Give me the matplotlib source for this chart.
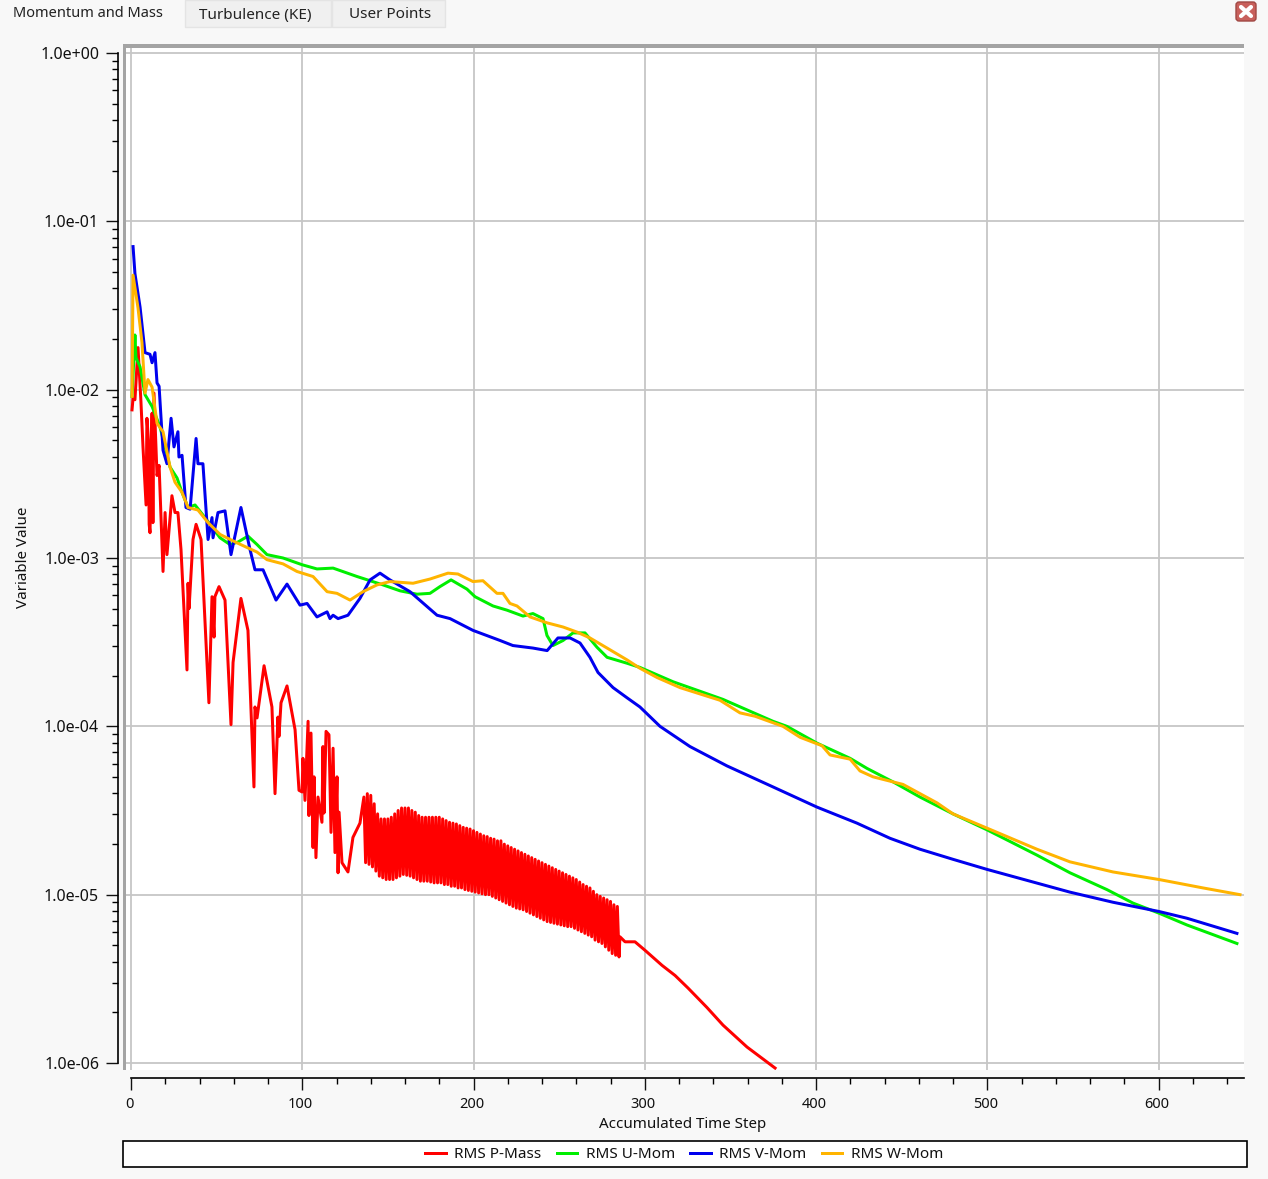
import matplotlib
matplotlib.use("Agg")
import matplotlib.pyplot as plt
import numpy as np
from matplotlib.patches import Rectangle, FancyBboxPatch
from matplotlib.ticker import LogLocator, MultipleLocator, NullFormatter
from matplotlib.transforms import ScaledTranslation

plt.rcParams['font.family'] = ['Noto Sans', 'DejaVu Sans']

W, H = 1268, 1179

TABS = ["Momentum and Mass", "Turbulence (KE)", "User Points"]
SERIES_NAMES = ["RMS P-Mass", "RMS U-Mom", "RMS V-Mom", "RMS W-Mom"]
X_LABEL = "Accumulated Time Step"
Y_LABEL = "Variable Value"
X_TICKS = [0, 100, 200, 300, 400, 500, 600]
Y_TICKS = [1e0, 1e-1, 1e-2, 1e-3, 1e-4, 1e-5, 1e-6]
Y_TICK_LABELS = ["1.0e+00", "1.0e-01", "1.0e-02", "1.0e-03", "1.0e-04", "1.0e-05", "1.0e-06"]

P_HEAD_X = [0.6,1.2,2.3,4.1,5.8,7,8.8,9.3,10.2,10.6,11.1,12.3,12.8,13.4,15.2,16.4,18.7,19.9,21,23.9,25.7,27.4,29.2,32.7,33.3,33.9,36.2,38,40.9,45.5,47.3,48.5,49,51.4,54.9,58.4,59.6,64.2,68.3,71.8,72.4,73.6,77.7,82.3,84.1,85.8,86.4,87.6,91.1,95.8,98.1,99.9,100.4,101.6,103.4,103.9,105.1,106.3,106.9,108,109.2,111.5,112.1,112.7,113.9,115.6,116.8,118,119.1,120.3,120.9,121.5,123.2,126.7,129.6,133.7]
P_HEAD_E = [-2.12,-2.05,-2.06,-1.75,-2.07,-2.34,-2.685,-2.17,-2.30,-2.80,-2.85,-2.14,-2.79,-2.02,-2.51,-2.45,-3.08,-2.73,-2.98,-2.63,-2.73,-2.73,-2.95,-3.665,-3.15,-3.30,-2.89,-2.80,-2.89,-3.86,-3.23,-3.47,-3.23,-3.17,-3.25,-3.99,-3.62,-3.24,-3.43,-4.36,-3.885,-3.95,-3.64,-3.885,-4.40,-3.945,-4.06,-3.86,-3.76,-4.02,-4.38,-4.39,-4.19,-4.44,-3.97,-4.53,-4.04,-4.72,-4.30,-4.78,-4.42,-4.57,-4.12,-4.515,-4.03,-4.05,-4.63,-4.13,-4.75,-4.30,-4.87,-4.51,-4.81,-4.865,-4.66,-4.575]
# oscillating stretch: one crest and one trough per two time steps
P_BAND_START = 136
P_BAND_HI = [-4.42,-4.40,-4.41,-4.46,-4.52,-4.55,-4.55,-4.55,-4.54,-4.52,-4.50,-4.485,-4.485,-4.485,-4.50,-4.51,-4.53,-4.54,-4.54,-4.54,-4.54,-4.54,-4.54,-4.55,-4.56,-4.57,-4.575,-4.58,-4.59,-4.60,-4.605,-4.61,-4.62,-4.63,-4.64,-4.65,-4.655,-4.665,-4.67,-4.68,-4.68,-4.70,-4.71,-4.72,-4.73,-4.74,-4.75,-4.76,-4.77,-4.78,-4.79,-4.80,-4.81,-4.82,-4.83,-4.84,-4.85,-4.86,-4.87,-4.88,-4.89,-4.90,-4.91,-4.925,-4.94,-4.95,-4.96,-4.98,-5.00,-5.01,-5.02,-5.03,-5.04,-5.06,-5.07]
P_BAND_LO = [-4.81,-4.82,-4.835,-4.86,-4.89,-4.90,-4.91,-4.91,-4.91,-4.90,-4.89,-4.88,-4.885,-4.89,-4.90,-4.91,-4.92,-4.92,-4.92,-4.925,-4.93,-4.93,-4.93,-4.94,-4.94,-4.95,-4.95,-4.96,-4.96,-4.97,-4.975,-4.98,-4.985,-4.99,-4.995,-5.00,-5.00,-5.01,-5.02,-5.03,-5.04,-5.05,-5.06,-5.07,-5.08,-5.085,-5.09,-5.10,-5.11,-5.12,-5.13,-5.14,-5.15,-5.16,-5.165,-5.17,-5.175,-5.18,-5.185,-5.19,-5.19,-5.20,-5.21,-5.22,-5.23,-5.24,-5.25,-5.27,-5.28,-5.29,-5.31,-5.33,-5.35,-5.36,-5.37]
P_TAIL_X = [285.5,288.5,294.3,300.1,310.1,317.7,325.3,336.3,345.7,359.7,376.1]
P_TAIL_E = [-5.25,-5.28,-5.28,-5.33,-5.42,-5.48,-5.555,-5.67,-5.775,-5.905,-6.03]

U_X = [0.6,2.3,2.9,5.3,8.2,12.3,16.9,19.9,22.8,26.9,29.8,33.3,37.4,43.2,52,57.8,62.5,68.3,73.6,79.4,88.8,99.9,108.6,118,132,147.2,157.1,167,174.6,180.4,186.9,196.2,200.9,211.4,219.6,228.9,234.7,240.6,242.9,246.4,252.3,258.1,265.1,272.1,278,289.6,297.2,316.5,345.7,374.9,383,400.6,419.9,429.8,445,460.7,480,499.9,529,548.3,569.9,585.1,600.3,616.6,645.8]
U_E = [-2.04,-1.675,-1.81,-1.865,-2.03,-2.10,-2.22,-2.34,-2.46,-2.525,-2.61,-2.70,-2.685,-2.76,-2.88,-2.92,-2.905,-2.87,-2.92,-2.98,-3.00,-3.04,-3.065,-3.06,-3.11,-3.16,-3.195,-3.215,-3.21,-3.17,-3.13,-3.185,-3.23,-3.285,-3.31,-3.345,-3.33,-3.36,-3.46,-3.52,-3.49,-3.445,-3.445,-3.53,-3.59,-3.625,-3.65,-3.735,-3.84,-3.97,-4.00,-4.10,-4.19,-4.25,-4.33,-4.42,-4.52,-4.615,-4.765,-4.87,-4.97,-5.05,-5.11,-5.18,-5.29]

V_X = [1.2,2.3,5.3,8.2,11.1,12.3,14,15.2,16.4,18.7,21,23.4,25.1,27.4,28,29.8,32.1,34.5,38,39.1,42,45,47.3,47.9,50.8,54.9,58.4,64.2,69.5,72.4,77.1,84.7,91.1,98.7,102.8,108.6,114.5,116.2,118,120.9,126.7,133.7,139.6,145.4,151.2,162.9,178.7,186.3,199.7,215.5,223,234.7,243,249.3,256.4,262.2,268,272.7,281.5,289.6,297.2,308.9,326.4,348,374.9,400.6,423.9,443.2,460.7,480,499.9,525,548.3,573.4,600.3,616.6,645.8]
V_E = [-1.15,-1.31,-1.51,-1.78,-1.79,-1.84,-1.78,-1.96,-1.98,-2.36,-2.44,-2.17,-2.34,-2.25,-2.40,-2.39,-2.70,-2.71,-2.29,-2.44,-2.44,-2.89,-2.76,-2.88,-2.73,-2.72,-2.98,-2.70,-2.95,-3.07,-3.07,-3.25,-3.155,-3.28,-3.27,-3.35,-3.32,-3.36,-3.34,-3.36,-3.34,-3.24,-3.13,-3.09,-3.13,-3.20,-3.34,-3.36,-3.43,-3.49,-3.52,-3.535,-3.55,-3.475,-3.475,-3.505,-3.59,-3.68,-3.77,-3.83,-3.885,-4.00,-4.12,-4.235,-4.36,-4.48,-4.575,-4.665,-4.73,-4.79,-4.85,-4.92,-4.985,-5.045,-5.10,-5.14,-5.23]

W_X = [0.6,1.2,4.1,6.4,8.2,9.9,12.3,15.2,18.7,22.8,25.7,29.8,33.3,39.1,45,52,61.9,73.6,79.4,88.8,96.9,106.3,114.5,120.3,127.9,135.5,143.6,151.2,164.7,174.6,185.1,190.9,199.7,205.5,213.7,217.2,221.3,225.4,233,242.9,252.3,260.4,268,278,289.6,297.2,307.2,320.6,343.9,355.6,364.4,380.7,390.7,403.5,408.2,419.9,425.7,433.3,450.8,470.7,480,499.9,529,548.3,573.4,600.3,626,647.6]
W_E = [-2.04,-1.32,-1.515,-1.72,-2.02,-1.94,-1.985,-2.20,-2.25,-2.46,-2.55,-2.61,-2.70,-2.715,-2.79,-2.86,-2.91,-2.965,-3.01,-3.035,-3.08,-3.11,-3.20,-3.21,-3.25,-3.20,-3.16,-3.14,-3.15,-3.125,-3.09,-3.095,-3.14,-3.135,-3.21,-3.21,-3.27,-3.285,-3.35,-3.385,-3.41,-3.44,-3.475,-3.535,-3.605,-3.655,-3.71,-3.77,-3.845,-3.92,-3.94,-4.00,-4.065,-4.115,-4.17,-4.195,-4.265,-4.30,-4.345,-4.455,-4.52,-4.605,-4.73,-4.805,-4.865,-4.91,-4.96,-5.00]

COLORS = ["#ff0000", "#00ee00", "#0000ee", "#ffb400"]

band_x, band_e = [], []
for i, (hi, lo) in enumerate(zip(P_BAND_HI, P_BAND_LO)):
    band_x += [P_BAND_START + 2 * i, P_BAND_START + 2 * i + 1]
    band_e += [hi, lo]
P_X = P_HEAD_X + band_x + P_TAIL_X
P_E = P_HEAD_E + band_e + P_TAIL_E

fig = plt.figure(figsize=(W / 100, H / 100), dpi=100, facecolor="#f8f8f8")

# window furniture, in pixel coordinates
bg = fig.add_axes([0, 0, 1, 1], zorder=-1)
bg.set_xlim(0, W); bg.set_ylim(H, 0); bg.axis("off")
bg.add_patch(Rectangle((185, 0), 146, 27, fc="#f0f0f0", ec="#e4e4e4", lw=1))
bg.add_patch(Rectangle((332, 0), 113, 27, fc="#f0f0f0", ec="#e4e4e4", lw=1))
bg.text(13, 13.5, TABS[0], fontsize=10.5, va="center", ha="left", color="#222222")
bg.text(199, 15, TABS[1], fontsize=11, va="center", ha="left", color="#222222")
bg.text(349, 15, TABS[2], fontsize=11, va="center", ha="left", color="#222222")
bg.add_patch(FancyBboxPatch((1237, 3), 18, 17, boxstyle="round,pad=1,rounding_size=3", fc="#c8605c", ec="#a04844", lw=1))
bg.plot([1241, 1251], [7, 16], color="white", lw=3, solid_capstyle="round")
bg.plot([1241, 1251], [16, 7], color="white", lw=3, solid_capstyle="round")
bg.add_patch(Rectangle((123, 44), 1121, 4, fc="#a4a4a4", ec="none"))
bg.add_patch(Rectangle((122.5, 44), 4, 1026, fc="#a4a4a4", ec="none"))
bg.add_patch(Rectangle((123, 1141), 1124, 26, fc="white", ec="black", lw=1.2))

L, R, T, B = 126, 1244, 48, 1070
ax = fig.add_axes([L / W, 1 - B / H, (R - L) / W, (B - T) / H], zorder=1)
ax.set_facecolor("white")
ax.set_yscale("log")
ax.set_xlim((L - 131) / 1.7125, (R - 131) / 1.7125)
ax.set_ylim(10 ** (-6 - 7 / 168.33), 10 ** (5 / 168.33))

ax.grid(True, which="major", color="#c6c6c6", lw=1.3)
ax.set_axisbelow(True)

px = 0.72
for xs, es, c, name in zip([P_X, U_X, V_X, W_X], [P_E, U_E, V_E, W_E], COLORS, SERIES_NAMES):
    ax.plot(xs, 10.0 ** np.array(es), color=c, lw=3 * px, label=name, solid_joinstyle="round")

for s in ("top", "right"):
    ax.spines[s].set_visible(False)
ax.spines["left"].set_position(("outward", 8 * px))
ax.spines["left"].set_bounds(1e-6, 1)
ax.spines["bottom"].set_position(("outward", 8 * px))
ax.spines["bottom"].set_bounds(0, 650)
ax.spines["bottom"].set_linewidth(1.2)
ax.spines["left"].set_linewidth(1.2)

ax.set_yticks(Y_TICKS)
ax.set_yticklabels(Y_TICK_LABELS)
ax.yaxis.set_minor_locator(LogLocator(base=10, subs=range(2, 10), numticks=20))
ax.yaxis.set_minor_formatter(NullFormatter())
ax.set_xticks(X_TICKS)
ax.xaxis.set_minor_locator(MultipleLocator(20))
ax.tick_params(axis="y", which="major", length=12 * px, width=1, pad=5, labelsize=11.5, colors="#111111")
ax.tick_params(axis="y", which="minor", length=6 * px, width=1)
ax.tick_params(axis="x", which="major", length=12 * px, width=1, pad=5, labelsize=10.5, colors="#111111")
ax.tick_params(axis="x", which="minor", length=6 * px, width=1)
shift = ScaledTranslation(-2 / 100, 0, fig.dpi_scale_trans)
for lab in ax.get_xticklabels():
    lab.set_transform(lab.get_transform() + shift)

fig.text(683 / W, 1 - 1124 / H, X_LABEL, fontsize=10.9, ha="center", va="center", color="#111111")
fig.text(24 / W, 1 - 557 / H, Y_LABEL, fontsize=10.9, rotation=90, ha="center", va="center", color="#111111")

handles, labels = ax.get_legend_handles_labels()
fig.legend(handles, labels, ncol=4, frameon=False, loc="center",
           bbox_to_anchor=(684 / W, 1 - 1154.5 / H), fontsize=11,
           handlelength=1.35, handletextpad=0.55, columnspacing=1.0, labelcolor="#111111")

fig.savefig("out.png", dpi=100, facecolor=fig.get_facecolor())
